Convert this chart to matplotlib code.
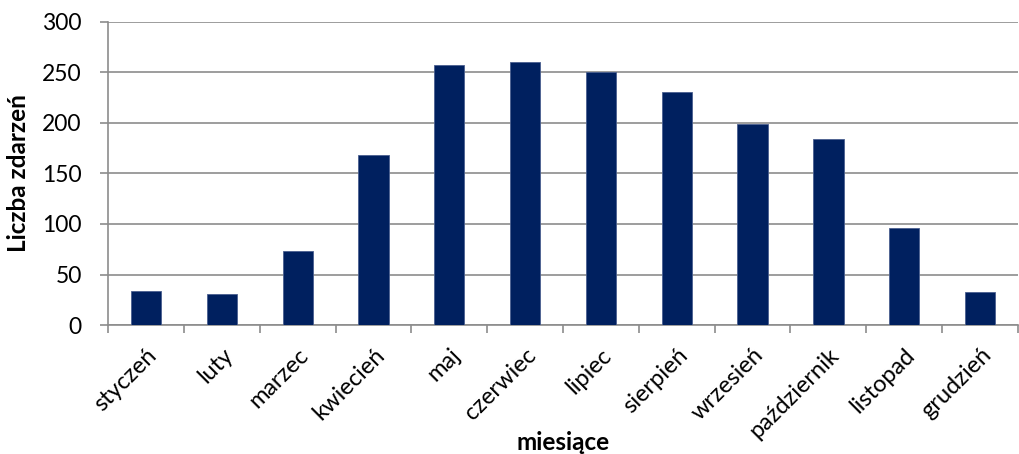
import numpy as np
import matplotlib.pyplot as plt

# miesiące i liczba zdarzeń
miesiace = ['styczeń', 'luty', 'marzec', 'kwiecień', 'maj', 'czerwiec',
            'lipiec', 'sierpień', 'wrzesień', 'październik', 'listopad', 'grudzień']
zdarzenia = [34, 31, 73, 168, 257, 260, 250, 231, 199, 184, 96, 33]
y_ticks = [0, 50, 100, 150, 200, 250, 300]

plt.rcParams['font.family'] = ['Lato', 'DejaVu Sans']

fig = plt.figure(figsize=(10.2, 4.54), dpi=100)
ax = fig.add_axes([0.106, 0.284, 0.892, 0.668])

x = np.arange(len(miesiace))
ax.bar(x, zdarzenia, width=0.4, color='#00205f', edgecolor='#4a5f8f',
       linewidth=0.6, zorder=3)

ax.set_xlim(-0.5, len(miesiace) - 0.5)
ax.set_ylim(0, 300)
ax.set_yticks(y_ticks)
ax.yaxis.grid(True, color='#8c8c8c', linewidth=1.2, zorder=0)

# kreski między kategoriami
ax.set_xticks(np.arange(len(miesiace) + 1) - 0.5)
ax.set_xticklabels([])
ax.set_xticks(x, minor=True)
ax.set_xticklabels(miesiace, minor=True, rotation=45, ha='right',
                   rotation_mode='anchor', fontsize=17)
ax.tick_params(axis='x', which='minor', length=0, pad=14)
ax.tick_params(axis='x', which='major', length=6, color='#8c8c8c', width=1.2)
ax.tick_params(axis='y', length=6, color='#8c8c8c', width=1.2, labelsize=16.5, pad=13)

for s in ['top', 'right']:
    ax.spines[s].set_visible(False)
for s in ['left', 'bottom']:
    ax.spines[s].set_color('#8c8c8c')
    ax.spines[s].set_linewidth(1.2)

ax.set_ylabel('Liczba zdarzeń', fontsize=17.5, fontweight='bold', labelpad=9)
ax.set_xlabel('miesiące', fontsize=17.5, fontweight='bold')
ax.xaxis.set_label_coords(0.5, -0.35)

plt.savefig('out.png', dpi=100)
